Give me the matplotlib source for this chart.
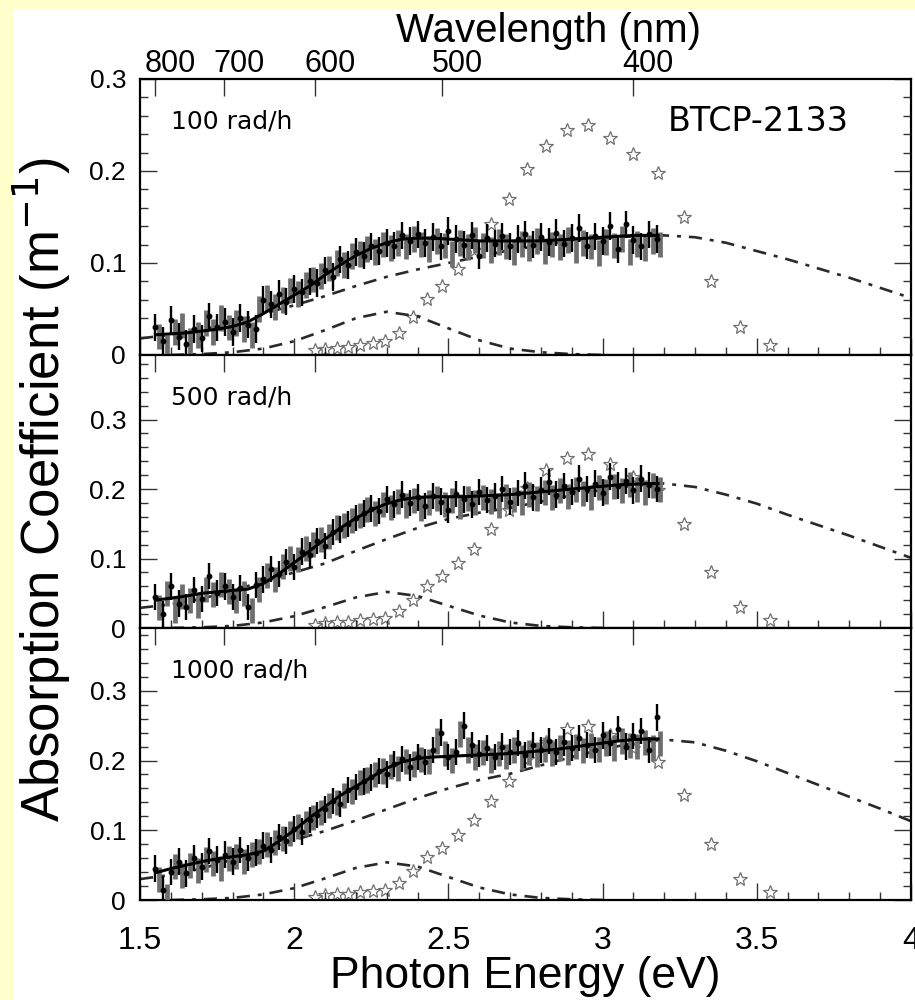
import numpy as np
import matplotlib
matplotlib.use('Agg')
import matplotlib.pyplot as plt
import matplotlib.transforms as mtransforms
from matplotlib.patches import Rectangle
from matplotlib.ticker import MultipleLocator, NullLocator

HC = 1239.84  # eV*nm

### data ###

# measured points, evenly spaced in energy
e_black = np.linspace(1.55, 3.175, 66)
e_grey = e_black + 0.0125

p1_black = [0.030, 0.015, 0.038, 0.020, 0.012, 0.028, 0.018, 0.042, 0.030, 0.036,
            0.025, 0.040, 0.033, 0.028, 0.060, 0.055, 0.066, 0.058, 0.072, 0.068,
            0.080, 0.078, 0.092, 0.085, 0.104, 0.098, 0.112, 0.108, 0.118, 0.113,
            0.122, 0.119, 0.130, 0.124, 0.131, 0.122, 0.128, 0.118, 0.135, 0.126,
            0.120, 0.130, 0.108, 0.127, 0.121, 0.129, 0.118, 0.126, 0.131, 0.120,
            0.128, 0.123, 0.133, 0.121, 0.127, 0.138, 0.119, 0.129, 0.124, 0.140,
            0.115, 0.142, 0.125, 0.118, 0.131, 0.126]
p1_grey = [0.020, 0.008, 0.025, 0.032, 0.015, 0.022, 0.035, 0.025, 0.040, 0.030,
           0.035, 0.028, 0.022, 0.050, 0.062, 0.052, 0.060, 0.070, 0.066, 0.076,
           0.082, 0.086, 0.094, 0.100, 0.098, 0.108, 0.110, 0.115, 0.112, 0.120,
           0.116, 0.122, 0.118, 0.126, 0.120, 0.115, 0.124, 0.119, 0.110, 0.122,
           0.117, 0.125, 0.119, 0.114, 0.123, 0.118, 0.112, 0.121, 0.116, 0.124,
           0.113, 0.120, 0.117, 0.125, 0.114, 0.122, 0.118, 0.111, 0.123, 0.119,
           0.126, 0.112, 0.121, 0.116, 0.124, 0.120]

p2_black = [0.045, 0.020, 0.060, 0.035, 0.030, 0.055, 0.042, 0.075, 0.050, 0.060,
            0.045, 0.058, 0.030, 0.062, 0.070, 0.085, 0.078, 0.095, 0.088, 0.110,
            0.105, 0.125, 0.118, 0.138, 0.142, 0.150, 0.158, 0.165, 0.172, 0.168,
            0.185, 0.178, 0.192, 0.180, 0.188, 0.176, 0.190, 0.182, 0.170, 0.193,
            0.185, 0.178, 0.196, 0.184, 0.190, 0.200, 0.182, 0.194, 0.205, 0.188,
            0.198, 0.210, 0.192, 0.204, 0.196, 0.215, 0.200, 0.208, 0.195, 0.218,
            0.205, 0.212, 0.198, 0.215, 0.206, 0.200]
p2_grey = [0.030, 0.050, 0.025, 0.045, 0.040, 0.032, 0.055, 0.048, 0.062, 0.052,
           0.040, 0.050, 0.025, 0.055, 0.075, 0.070, 0.088, 0.100, 0.098, 0.115,
           0.120, 0.128, 0.132, 0.145, 0.148, 0.155, 0.162, 0.170, 0.165, 0.178,
           0.174, 0.182, 0.176, 0.184, 0.172, 0.180, 0.186, 0.178, 0.184, 0.175,
           0.186, 0.180, 0.188, 0.182, 0.176, 0.190, 0.185, 0.180, 0.192, 0.186,
           0.195, 0.188, 0.198, 0.190, 0.200, 0.194, 0.188, 0.202, 0.196, 0.204,
           0.198, 0.206, 0.200, 0.195, 0.205, 0.200]

p3_black = [0.045, 0.015, 0.040, 0.055, 0.038, 0.060, 0.048, 0.070, 0.058, 0.065,
            0.055, 0.072, 0.060, 0.068, 0.078, 0.072, 0.090, 0.085, 0.102, 0.098,
            0.115, 0.122, 0.130, 0.142, 0.138, 0.158, 0.162, 0.170, 0.176, 0.185,
            0.180, 0.195, 0.202, 0.190, 0.205, 0.198, 0.215, 0.240, 0.205, 0.212,
            0.250, 0.222, 0.210, 0.218, 0.205, 0.220, 0.212, 0.225, 0.208, 0.222,
            0.215, 0.228, 0.212, 0.226, 0.218, 0.232, 0.222, 0.215, 0.236, 0.225,
            0.245, 0.220, 0.235, 0.242, 0.215, 0.262]
p3_grey = [0.030, 0.005, 0.048, 0.035, 0.050, 0.042, 0.058, 0.052, 0.045, 0.060,
           0.062, 0.055, 0.065, 0.070, 0.080, 0.082, 0.088, 0.095, 0.105, 0.110,
           0.118, 0.125, 0.135, 0.140, 0.150, 0.155, 0.168, 0.172, 0.180, 0.185,
           0.192, 0.188, 0.198, 0.195, 0.202, 0.198, 0.228, 0.210, 0.200, 0.238,
           0.215, 0.205, 0.212, 0.200, 0.210, 0.206, 0.215, 0.204, 0.212, 0.208,
           0.216, 0.210, 0.218, 0.212, 0.220, 0.214, 0.222, 0.216, 0.224, 0.218,
           0.228, 0.222, 0.220, 0.226, 0.218, 0.224]

err_black = [0.015, 0.019, 0.019]
err_grey = [0.014, 0.018, 0.018]

# total fit (solid)
fit_e = [1.55, 1.60, 1.65, 1.70, 1.75, 1.80, 1.85, 1.90, 1.95, 2.00, 2.05, 2.10,
         2.15, 2.20, 2.25, 2.30, 2.35, 2.40, 2.45, 2.50, 2.55, 2.60, 2.65, 2.70,
         2.75, 2.80, 2.85, 2.90, 2.95, 3.00, 3.05, 3.10, 3.15, 3.18]
p1_fit = [0.022, 0.023, 0.024, 0.026, 0.028, 0.031, 0.036, 0.045, 0.055, 0.065, 0.075, 0.087,
          0.098, 0.108, 0.116, 0.122, 0.126, 0.127, 0.127, 0.126, 0.125, 0.124, 0.124, 0.124,
          0.124, 0.124, 0.125, 0.126, 0.127, 0.128, 0.129, 0.130, 0.130, 0.130]
p2_fit = [0.040, 0.043, 0.046, 0.050, 0.052, 0.054, 0.056, 0.064, 0.078, 0.094, 0.111, 0.128,
          0.144, 0.158, 0.170, 0.179, 0.185, 0.188, 0.189, 0.189, 0.189, 0.190, 0.191, 0.192,
          0.194, 0.196, 0.198, 0.200, 0.202, 0.204, 0.206, 0.207, 0.208, 0.208]
p3_fit = [0.039, 0.045, 0.050, 0.055, 0.059, 0.062, 0.065, 0.070, 0.084, 0.100, 0.118, 0.134,
          0.150, 0.163, 0.176, 0.189, 0.198, 0.203, 0.205, 0.206, 0.207, 0.208, 0.209, 0.210,
          0.212, 0.214, 0.216, 0.219, 0.222, 0.225, 0.228, 0.230, 0.231, 0.231]

# broad component (dash-dot)
broad_e = [1.5, 1.6, 1.7, 1.8, 1.9, 2.0, 2.1, 2.2, 2.3, 2.4, 2.5, 2.6, 2.7,
           2.8, 2.9, 3.0, 3.1, 3.2, 3.3, 3.4, 3.5, 3.6, 3.7, 3.8, 3.9, 4.0]
p1_broad = [0.018, 0.022, 0.027, 0.036, 0.045, 0.054, 0.064, 0.075, 0.085, 0.093, 0.100, 0.107, 0.114,
            0.119, 0.124, 0.127, 0.129, 0.130, 0.128, 0.122, 0.113, 0.104, 0.094, 0.084, 0.073, 0.062]
p2_broad = [0.029, 0.034, 0.042, 0.054, 0.067, 0.080, 0.093, 0.111, 0.128, 0.144, 0.157, 0.166, 0.173,
            0.182, 0.191, 0.199, 0.205, 0.208, 0.203, 0.192, 0.179, 0.163, 0.148, 0.133, 0.117, 0.101]
p3_broad = [0.030, 0.036, 0.045, 0.058, 0.072, 0.086, 0.099, 0.114, 0.130, 0.146, 0.160, 0.172, 0.181,
            0.193, 0.205, 0.216, 0.225, 0.230, 0.226, 0.214, 0.199, 0.182, 0.165, 0.148, 0.131, 0.113]

# 2.3 eV band (dash-dot)
band_e = [1.6, 1.7, 1.8, 1.9, 2.0, 2.1, 2.2, 2.3, 2.4, 2.5, 2.6, 2.7, 2.8, 2.9, 3.0]
p1_band = [0.000, 0.001, 0.003, 0.007, 0.015, 0.027, 0.040, 0.047, 0.042, 0.029, 0.016, 0.007, 0.003, 0.001, 0.000]
p2_band = [0.000, 0.001, 0.003, 0.008, 0.017, 0.030, 0.044, 0.052, 0.046, 0.032, 0.018, 0.008, 0.003, 0.001, 0.000]
p3_band = [0.000, 0.001, 0.003, 0.008, 0.017, 0.031, 0.046, 0.054, 0.048, 0.033, 0.018, 0.008, 0.003, 0.001, 0.000]

# reference spectrum (stars), same in every panel
star_nm = [600, 590, 580, 570, 560, 550, 540, 530, 520, 510, 500, 490, 480,
           470, 460, 450, 440, 430, 420, 410, 400, 390, 380, 370, 360, 350]
star_val = [0.005, 0.007, 0.008, 0.009, 0.011, 0.013, 0.015, 0.024, 0.041, 0.061, 0.075, 0.093, 0.114,
            0.142, 0.170, 0.202, 0.227, 0.245, 0.250, 0.236, 0.218, 0.198, 0.150, 0.080, 0.030, 0.011]

labels = ['100 rad/h', '500 rad/h', '1000 rad/h']
ytops = [0.3, 0.393, 0.39]
wl_ticks = [800, 700, 600, 500, 400]

panels = [
    (p1_black, p1_grey, p1_fit, p1_broad, p1_band),
    (p2_black, p2_grey, p2_fit, p2_broad, p2_band),
    (p3_black, p3_grey, p3_fit, p3_broad, p3_band),
]

### plotting ###
SANS = ['Liberation Sans', 'DejaVu Sans']

fig = plt.figure(figsize=(9.15, 10), dpi=100, facecolor='#FFFFCC')
fig.patches.append(Rectangle((13 / 915, 0), 1, 1 - 9 / 1000, transform=fig.transFigure,
                             facecolor='white', edgecolor='none', zorder=-10))

rects = [[0.153, 0.645, 0.8426, 0.276],
         [0.153, 0.372, 0.8426, 0.273],
         [0.153, 0.100, 0.8426, 0.272]]

dash_dot = (0, (5, 3, 1.5, 3))
star_e = HC / np.array(star_nm)

for i, (blk, gry, fit, broad, band) in enumerate(panels):
    ax = fig.add_axes(rects[i])
    ax.set_xlim(1.5, 4.0)
    ax.set_ylim(0, ytops[i])

    ax.plot(star_e, star_val, linestyle='none', marker='*', ms=10, mfc='none',
            mec='#707070', mew=0.9, zorder=1)
    ax.plot(broad_e, broad, color='#2a2a2a', lw=1.9, ls=dash_dot, zorder=2)
    ax.plot(band_e, band, color='#2a2a2a', lw=1.9, ls=dash_dot, zorder=2)
    ax.errorbar(e_grey, gry, yerr=err_grey[i], fmt='none', ecolor='#6e6e6e',
                elinewidth=3.4, capsize=0, zorder=3)
    ax.errorbar(e_black, blk, yerr=err_black[i], fmt='o', ms=3.2, color='black',
                elinewidth=1.7, capsize=0, zorder=4)
    ax.plot(fit_e, fit, color='black', lw=2.2, zorder=5)

    for sp in ax.spines.values():
        sp.set_linewidth(1.6)

    ax.xaxis.set_major_locator(MultipleLocator(0.5))
    ax.xaxis.set_minor_locator(MultipleLocator(0.1))
    ax.yaxis.set_major_locator(MultipleLocator(0.1))
    ax.yaxis.set_minor_locator(MultipleLocator(0.02))
    ax.tick_params(which='both', direction='in', left=True, right=True,
                   bottom=True, top=False, width=1, colors='#333333')
    ax.tick_params(which='major', length=12)
    ax.tick_params(which='minor', length=6)
    ax.tick_params(axis='y', labelsize=19, pad=10, labelcolor='black')
    ax.set_yticks([0, 0.1, 0.2, 0.3])
    ax.set_yticklabels(['0', '0.1', '0.2', '0.3'], family=SANS)

    if i < 2:
        ax.tick_params(axis='x', labelbottom=False)
    else:
        ax.tick_params(axis='x', labelsize=23, pad=19, labelcolor='black')
        ax.set_xticks([1.5, 2, 2.5, 3, 3.5, 4])
        ax.set_xticklabels(['1.5', '2', '2.5', '3', '3.5', '4'], family=SANS)
        ax.set_xlabel('Photon Energy (eV)', fontsize=32, family=SANS, labelpad=0)

    # wavelength scale on top
    sec = ax.secondary_xaxis('top', functions=(lambda x: HC / np.where(x == 0, 1e-9, x),
                                               lambda x: HC / np.where(x == 0, 1e-9, x)))
    sec.set_xticks(wl_ticks)
    sec.xaxis.set_minor_locator(NullLocator())
    sec.tick_params(which='major', direction='in', length=12, width=1, colors='#333333')
    sec.spines['top'].set_visible(False)
    if i == 0:
        sec.set_xticklabels([str(w) for w in wl_ticks], family=SANS, fontsize=22)
        sec.tick_params(labelcolor='black', pad=0)
        shift = mtransforms.ScaledTranslation(0.15, 0, fig.dpi_scale_trans)
        for lab in sec.get_xticklabels():
            lab.set_transform(lab.get_transform() + shift)
        sec.set_xlabel('Wavelength (nm)', fontsize=29, family=SANS, labelpad=5, x=0.53)
    else:
        sec.set_xticklabels([])

    ax.text(0.04, 0.845, labels[i], transform=ax.transAxes, fontsize=18,
            family='DejaVu Sans', va='center', ha='left')
    if i == 0:
        ax.text(0.685, 0.845, 'BTCP-2133', transform=ax.transAxes, fontsize=24,
                family='DejaVu Sans', va='center', ha='left')

fig.text(0.046, 0.51, 'Absorption Coefficient (m$^{-1}$)', rotation=90,
         fontsize=38, family=SANS, va='center', ha='center')

fig.savefig('out.png', dpi=100)
